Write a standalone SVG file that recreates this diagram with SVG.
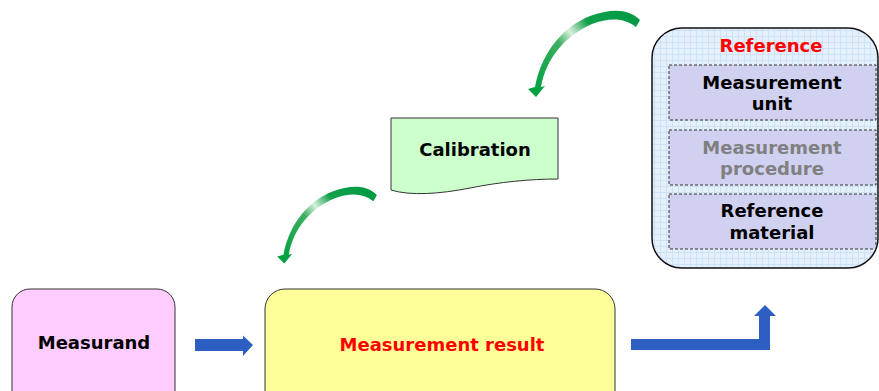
<svg xmlns="http://www.w3.org/2000/svg" width="879" height="391" viewBox="0 0 879 391">
<defs>
<style>
text{font-family:"DejaVu Sans","Verdana",sans-serif;font-weight:bold;font-size:18px;text-anchor:middle}
.node{stroke:#333;stroke-width:1}
.inner{fill:#D0D0F0;stroke:#333;stroke-width:1;stroke-dasharray:3,2}
.blue{fill:#2D5FC3}
</style>
<pattern id="grid" width="6" height="6" patternUnits="userSpaceOnUse">
<rect width="6" height="6" fill="#E4F0FB"/>
<path d="M0,0.5H6M0.5,0V6" stroke="#CFE1F4" stroke-width="1" fill="none"/>
</pattern>
<linearGradient id="gg" gradientUnits="userSpaceOnUse" x1="640" y1="15" x2="536" y2="95">
<stop offset="0" stop-color="#009944"/>
<stop offset="0.35" stop-color="#12A04A"/>
<stop offset="0.5" stop-color="#D8F0DC"/>
<stop offset="0.62" stop-color="#3CB060"/>
<stop offset="1" stop-color="#00A040"/>
</linearGradient>
<path id="carrow" fill="url(#gg)" d="M640,20 C628,8 610,9 590,16 C565,26 542,50 535,87 L528,89 L536,97 L545,86 L541,87 C546,58 566,35 592,24 C610,17 625,18 636,27 Z"/>
</defs>
<rect width="879" height="391" fill="#fff"/>

<g id="connectors">
<use href="#carrow"/>
<use href="#carrow" transform="translate(376,195) scale(0.89) translate(-639,-20)"/>
<path class="blue" d="M195,339 H243 V335.5 L253,345 L243,356 V351 H195 Z"/>
<path class="blue" d="M631,339 H759 V316 H754 L765,305 L776,316 H770 V350 H631 Z"/>
</g>

<g id="measurand">
<rect class="node" x="12" y="289" width="163" height="130" rx="18" fill="#FFCCFF"/>
<text x="94" y="349">Measurand</text>
</g>

<g id="result">
<rect class="node" x="265" y="289" width="350" height="130" rx="20" fill="#FFFF99"/>
<text x="442" y="351" fill="#FF0000">Measurement result</text>
</g>

<g id="calibration">
<path class="node" fill="#CCFFCC" d="M391,118 H558 V179 C530,179 500,182 470,188 C440,194 410,196 391,190 Z"/>
<text x="475" y="156">Calibration</text>
</g>

<g id="reference">
<rect x="652" y="28" width="226" height="240" rx="30" fill="url(#grid)" stroke="#111" stroke-width="1.5"/>
<text x="771" y="52" fill="#FF0000">Reference</text>
<g id="unit">
<rect class="inner" x="669" y="65" width="207" height="55"/>
<text x="772" y="88.5">Measurement</text>
<text x="772" y="110">unit</text>
</g>
<g id="procedure">
<rect class="inner" x="669" y="130" width="207" height="55"/>
<text x="772" y="153.5" fill="#808080">Measurement</text>
<text x="772" y="175" fill="#808080">procedure</text>
</g>
<g id="material">
<rect class="inner" x="669" y="194" width="207" height="55"/>
<text x="772" y="217">Reference</text>
<text x="772" y="239">material</text>
</g>
</g>
</svg>
